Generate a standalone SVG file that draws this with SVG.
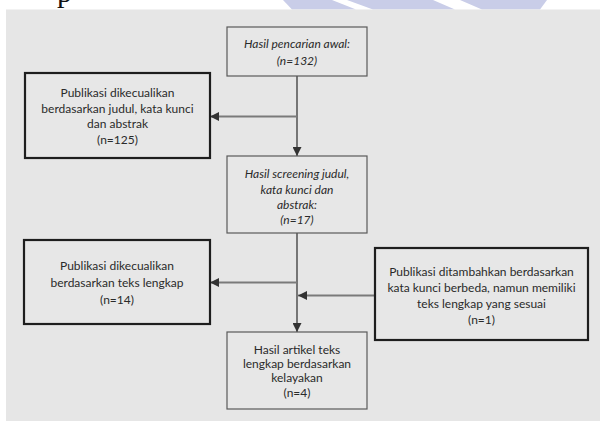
<svg xmlns="http://www.w3.org/2000/svg" width="600" height="421" viewBox="0 0 600 421">
<defs>
<style>
.t{font-family:Lato,"Open Sans","DejaVu Sans",sans-serif;font-size:12px;fill:#2a2a2a;text-anchor:middle}
.i{font-style:italic}
.thin{fill:#e7e7e7;stroke:#5a5a5a;stroke-width:1.2}
.thick{fill:#e7e7e7;stroke:#1e1e1e;stroke-width:2.2}
.v{stroke:#3a3a3a;stroke-width:1.3;fill:none}
.h{stroke:#7a7a7a;stroke-width:2;fill:none}
</style>
<marker id="ah" viewBox="0 0 10 10" refX="10" refY="5" markerWidth="9" markerHeight="9" markerUnits="userSpaceOnUse" orient="auto">
<path d="M0,0 L10,5 L0,10 Z" fill="#333"/>
</marker>
</defs>
<rect x="0" y="0" width="600" height="421" fill="#ffffff"/>
<g id="watermark" fill="#c9cde8">
<polygon points="283,0 332,0 356,9.5 292,9.5"/>
<polygon points="347,0 433,0 455,9.5 373,9.5"/>
<polygon points="460,0 547,0 540,9.5 482,9.5"/>
</g>
<text x="57" y="2" font-family="Liberation Serif,serif" font-size="30" fill="#111">p</text>
<rect x="6" y="9.5" width="594" height="411.5" fill="#e6e6e6"/>
<g id="connectors">
<line class="v" x1="297" y1="76" x2="297" y2="156" marker-end="url(#ah)"/>
<line class="h" x1="297" y1="116.5" x2="210" y2="116.5" marker-end="url(#ah)"/>
<line class="v" x1="297" y1="233" x2="297" y2="332" marker-end="url(#ah)"/>
<line class="h" x1="297" y1="282.5" x2="210" y2="282.5" marker-end="url(#ah)"/>
<line class="h" x1="375" y1="295.5" x2="298" y2="295.5" marker-end="url(#ah)"/>
</g>
<g id="n1">
<rect class="thin" x="227" y="27" width="140" height="49"/>
<text class="t i" x="297" y="48">Hasil pencarian awal:</text>
<text class="t i" x="297" y="65">(n=132)</text>
</g>
<g id="n2">
<rect class="thick" x="25" y="73" width="185" height="85"/>
<text class="t" x="117.5" y="97">Publikasi dikecualikan</text>
<text class="t" x="117.5" y="112.5">berdasarkan judul, kata kunci</text>
<text class="t" x="117.5" y="128">dan abstrak</text>
<text class="t" x="117.5" y="144">(n=125)</text>
</g>
<g id="n3">
<rect class="thin" x="227" y="156" width="140" height="77"/>
<text class="t i" x="297" y="178">Hasil screening judul,</text>
<text class="t i" x="297" y="193.5">kata kunci dan</text>
<text class="t i" x="297" y="209">abstrak:</text>
<text class="t i" x="297" y="224">(n=17)</text>
</g>
<g id="n4">
<rect class="thick" x="24" y="240" width="186" height="84"/>
<text class="t" x="117" y="270">Publikasi dikecualikan</text>
<text class="t" x="117" y="287">berdasarkan teks lengkap</text>
<text class="t" x="117" y="304">(n=14)</text>
</g>
<g id="n5">
<rect class="thick" x="375" y="248" width="213" height="92"/>
<text class="t" x="481.5" y="276">Publikasi ditambahkan berdasarkan</text>
<text class="t" x="481.5" y="292">kata kunci berbeda, namun memiliki</text>
<text class="t" x="481.5" y="308">teks lengkap yang sesuai</text>
<text class="t" x="481.5" y="324">(n=1)</text>
</g>
<g id="n6">
<rect class="thin" x="227" y="332" width="140" height="77"/>
<text class="t" x="297" y="354">Hasil artikel teks</text>
<text class="t" x="297" y="368">lengkap berdasarkan</text>
<text class="t" x="297" y="382">kelayakan</text>
<text class="t" x="297" y="397">(n=4)</text>
</g>
</svg>
